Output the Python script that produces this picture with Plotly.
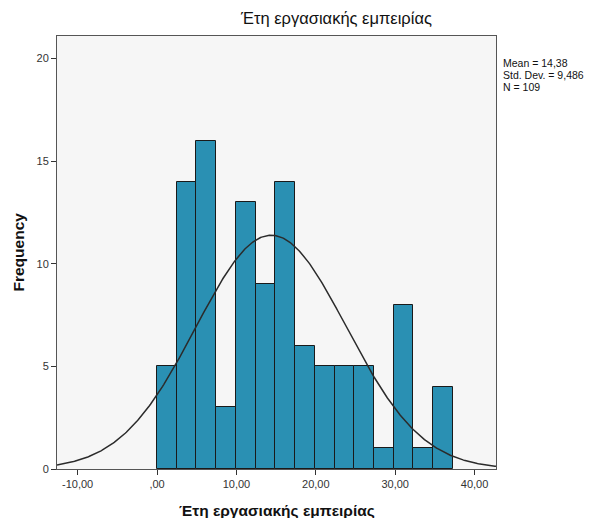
import numpy as np
import plotly.graph_objects as go

# Data
counts = [5, 14, 16, 3, 13, 9, 14, 6, 5, 5, 5, 1, 8, 1, 4]
bin_start = 0.0
bin_width = 2.485
mean_val = 14.38
std_val = 9.486
n_val = 109
x_tickvals = [-10, 0, 10, 20, 30, 40]
x_ticktext = ["-10,00", ",00", "10,00", "20,00", "30,00", "40,00"]
y_tickvals = [0, 5, 10, 15, 20]
stats_lines = ["Mean = 14,38", "Std. Dev. = 9,486", "N = 109"]
title_text = "Έτη εργασιακής εμπειρίας"
x_title = "Έτη εργασιακής εμπειρίας"
y_title = "Frequency"

centers = [bin_start + bin_width * (i + 0.5) for i in range(len(counts))]

x_min, x_max = -12.6, 42.7
xs = np.linspace(x_min, x_max, 400)
ys = n_val * bin_width / (std_val * np.sqrt(2 * np.pi)) * np.exp(-0.5 * ((xs - mean_val) / std_val) ** 2)

fig = go.Figure()
fig.add_trace(go.Bar(
    x=centers, y=counts, width=bin_width,
    marker=dict(color="#2A90B3", line=dict(color="#1a1a1a", width=1)),
    hoverinfo="skip",
))
fig.add_trace(go.Scatter(
    x=xs, y=ys, mode="lines",
    line=dict(color="#2b2b2b", width=1.5),
    hoverinfo="skip",
))

font_family = "Liberation Sans, Arial, sans-serif"

annotations = [
    dict(text=title_text, xref="paper", yref="paper",
         x=(336 - 57) / 439, y=1, yshift=18, showarrow=False,
         xanchor="center", yanchor="middle",
         font=dict(size=16.5, color="#111", family=font_family)),
    dict(text="<b>" + x_title + "</b>", xref="paper", yref="paper",
         x=0.5, y=0, yshift=-41, showarrow=False,
         xanchor="center", yanchor="middle",
         font=dict(size=15.5, color="#111", family=font_family)),
    dict(text="<b>" + y_title + "</b>", xref="paper", yref="paper",
         x=0, xshift=-39, y=0.5, showarrow=False, textangle=-90,
         xanchor="center", yanchor="middle",
         font=dict(size=15.5, color="#111", family=font_family)),
]
for i, line in enumerate(stats_lines):
    annotations.append(dict(
        text=line, xref="paper", yref="paper", x=1, xshift=5,
        y=1, yshift=-27 - 12 * i, showarrow=False,
        xanchor="left", yanchor="middle", align="left",
        font=dict(size=10.5, color="#111", family=font_family)))

fig.update_layout(
    width=584, height=510,
    margin=dict(l=49, r=96, t=28, b=49),
    paper_bgcolor="white",
    plot_bgcolor="#F6F6F6",
    showlegend=False,
    bargap=0,
    font=dict(family=font_family, color="#222"),
    xaxis=dict(
        range=[x_min, x_max],
        tickvals=x_tickvals, ticktext=x_ticktext,
        ticks="outside", ticklen=5, tickcolor="#333",
        tickfont=dict(size=11, color="#333"),
        showgrid=False, zeroline=False,
        showline=True, linecolor="#555", linewidth=1, mirror=True,
    ),
    yaxis=dict(
        range=[0, 21.1],
        tickvals=y_tickvals,
        ticks="outside", ticklen=5, tickcolor="#333",
        tickfont=dict(size=11, color="#333"),
        showgrid=False, zeroline=False,
        showline=True, linecolor="#555", linewidth=1, mirror=True,
    ),
    annotations=annotations,
)

fig.write_html("out.html")
